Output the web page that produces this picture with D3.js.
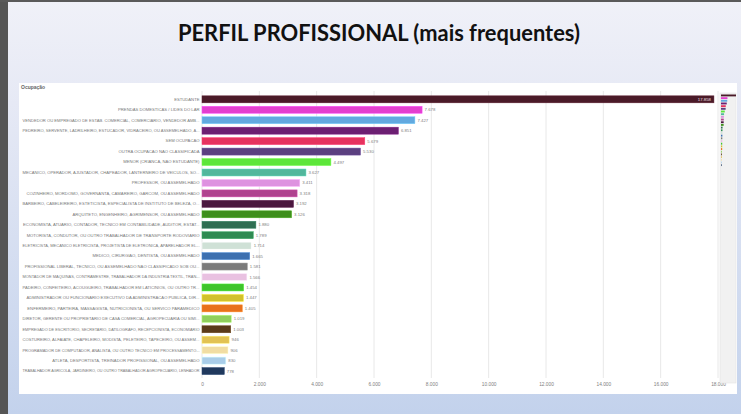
<!DOCTYPE html>
<html>
<head>
<meta charset="utf-8">
<script src="https://cdn.jsdelivr.net/npm/d3@7"></script>
<style>
  html, body { margin: 0; padding: 0; background: #ffffff; }
  svg { display: block; }
</style>
</head>
<body>
<svg id="chart" width="741" height="414"></svg>
<script>
// ---- Data ----
const categories = [
  "ESTUDANTE",
  "PRENDAS DOMESTICAS / LIDES DO LAR",
  "VENDEDOR OU EMPREGADO DE ESTAB. COMERCIAL, COMERCIARIO, VENDEDOR AMB...",
  "PEDREIRO, SERVENTE, LADRILHEIRO, ESTUCADOR, VIDRACEIRO, OU ASSEMELHADO, A...",
  "SEM OCUPACAO",
  "OUTRA OCUPACAO NAO CLASSIFICADA",
  "MENOR (CRIANCA, NAO ESTUDANTE)",
  "MECANICO, OPERADOR, AJUSTADOR, CHAPEADOR, LANTERNEIRO DE VEICULOS, SO...",
  "PROFESSOR, OU ASSEMELHADO",
  "COZINHEIRO, MORDOMO, GOVERNANTA, CAMAREIRO, GARCOM, OU ASSEMELHADO",
  "BARBEIRO, CABELEIREIRO, ESTETICISTA, ESPECIALISTA DE INSTITUTO DE BELEZA, O...",
  "ARQUITETO, ENGENHEIRO, AGRIMENSOR, OU ASSEMELHADO",
  "ECONOMISTA, ATUARIO, CONTADOR, TECNICO EM CONTABILIDADE, AUDITOR, ESTAT...",
  "MOTORISTA, CONDUTOR, OU OUTRO TRABALHADOR DE TRANSPORTE RODOVIARIO",
  "ELETRICISTA, MECANICO ELETRICISTA, PROJETISTA DE ELETRONICA, APARELHADOR EL...",
  "MEDICO, CIRURGIAO, DENTISTA, OU ASSEMELHADO",
  "PROFISSIONAL LIBERAL, TECNICO, OU ASSEMELHADO NAO CLASSIFICADO SOB OU...",
  "MONTADOR DE MAQUINAS, CONTRAMESTRE, TRABALHADOR DA INDUSTRIA TEXTIL, TRAN...",
  "PADEIRO, CONFEITEIRO, ACOUGUEIRO, TRABALHADOR EM LATICINIOS, OU OUTRO TR...",
  "ADMINISTRADOR OU FUNCIONARIO EXECUTIVO DA ADMINISTRACAO PUBLICA, DIR...",
  "ENFERMEIRO, PARTEIRA, MASSAGISTA, NUTRICIONISTA, OU SERVICO PARAMEDICO",
  "DIRETOR, GERENTE OU PROPRIETARIO DE CASA COMERCIAL, AGROPECUARIA OU SIMI...",
  "EMPREGADO DE ESCRITORIO, SECRETARIO, DATILOGRAFO, RECEPCIONISTA, ECONOMIARIO",
  "COSTUREIRO, ALFAIATE, CHAPELEIRO, MODISTA, PELETEIRO, TAPECEIRO, OU ASSEM...",
  "PROGRAMADOR DE COMPUTADOR, ANALISTA, OU OUTRO TECNICO EM PROCESSAMENTO...",
  "ATLETA, DESPORTISTA, TREINADOR PROFISSIONAL, OU ASSEMELHADO",
  "TRABALHADOR AGRICOLA, JARDINEIRO, OU OUTRO TRABALHADOR AGROPECUARIO, LENHADOR"
];
const values = [17858, 7678, 7427, 6851, 5679, 5530, 4497, 3627, 3411, 3318, 3192, 3126,
  1880, 1789, 1714, 1665, 1581, 1566, 1454, 1447, 1405, 1019, 1003, 946, 906, 830, 778];
const colors = ["#4a1a28", "#e33fcf", "#62a9df", "#6c1f72", "#e6335f", "#5b4080", "#5de63a",
  "#52b79c", "#de92e0", "#b0438f", "#4b173f", "#3e8f1c", "#2f6e52", "#2f8b52", "#cfe1d6",
  "#3d70b0", "#7b7b7b", "#e9c1e1", "#3fc42c", "#d1c12c", "#e8711c", "#90cf5c", "#5b3b1a",
  "#e2c253", "#f1dda3", "#a9cde9", "#20395d"];
const tickValues = [0, 2000, 4000, 6000, 8000, 10000, 12000, 14000, 16000, 18000];
const title = "PERFIL PROFISSIONAL (mais frequentes)";
const fieldName = "Ocupação";

const fmt = v => d3.format(",")(v).replace(/,/g, ".");

const svg = d3.select("#chart");
const W = 741, H = 414;

// ---- Slide background ----
const defs = svg.append("defs");
const g1 = defs.append("linearGradient").attr("id", "bg").attr("x1", 0).attr("y1", 0).attr("x2", 0).attr("y2", 1);
g1.append("stop").attr("offset", "0%").attr("stop-color", "#f0f1f8");
g1.append("stop").attr("offset", "25%").attr("stop-color", "#e6e9f5");
g1.append("stop").attr("offset", "100%").attr("stop-color", "#c3d2ec");
svg.append("rect").attr("width", W).attr("height", H).attr("fill", "url(#bg)");
// dark frame (top-left)
svg.append("rect").attr("x", 0).attr("y", 0).attr("width", 8).attr("height", H).attr("fill", "#555555");
svg.append("rect").attr("x", 0).attr("y", 0).attr("width", W).attr("height", 2).attr("fill", "#5a5a5a");

// title
svg.append("text")
  .attr("x", 379).attr("y", 41)
  .attr("text-anchor", "middle")
  .attr("font-family", "Lato, 'Open Sans', sans-serif")
  .attr("font-weight", 700)
  .attr("font-size", 22)
  .attr("textLength", 402)
  .attr("lengthAdjust", "spacingAndGlyphs")
  .attr("fill", "#111111")
  .text(title);

// white panel
svg.append("rect").attr("x", 19).attr("y", 83).attr("width", 718).attr("height", 311).attr("fill", "#ffffff");

svg.append("text")
  .attr("x", 21).attr("y", 89)
  .attr("font-family", "'Liberation Sans', Arial, sans-serif")
  .attr("font-weight", 700)
  .attr("font-size", 5)
  .attr("fill", "#666")
  .text(fieldName);

// ---- Scales ----
const x = d3.scaleLinear().domain([0, 18000]).range([202, 718]);
const y = d3.scaleBand().domain(categories).range([94.1, 376.3]).paddingInner(0.33).paddingOuter(0.165);

// gridlines
svg.append("g").selectAll("line").data(tickValues).join("line")
  .attr("x1", d => x(d)).attr("x2", d => x(d))
  .attr("y1", 91).attr("y2", 378)
  .attr("stroke", "#e8e8e8").attr("stroke-width", 1);

// x axis labels
const xAxis = d3.axisBottom(x).tickValues(tickValues).tickSize(0).tickPadding(0).tickFormat(fmt);
const ax = svg.append("g").attr("transform", "translate(0,383)").call(xAxis);
ax.select(".domain").remove();
ax.selectAll("text")
  .attr("font-family", "'Liberation Sans', Arial, sans-serif")
  .attr("font-size", 4.8)
  .attr("fill", "#808080");

// bars
const data = categories.map((c, i) => ({ c, v: values[i], col: colors[i], i }));
svg.append("g").selectAll("rect").data(data).join("rect")
  .attr("x", x(0))
  .attr("y", d => y(d.c))
  .attr("width", d => x(d.v) - x(0))
  .attr("height", y.bandwidth())
  .attr("fill", d => d.col)
  .attr("stroke", d => d3.color(d.col).brighter(0.6))
  .attr("stroke-width", 0.5);

// category labels
const yAxis = d3.axisLeft(y).tickSize(0).tickPadding(0);
const ay = svg.append("g").attr("transform", "translate(199.5,0)").call(yAxis);
ay.select(".domain").remove();
ay.selectAll("text")
  .attr("font-family", "'Liberation Sans', Arial, sans-serif")
  .attr("font-size", 4.2)
  .attr("fill", "#777777")
  .each(function () {
    const len = this.getComputedTextLength();
    if (len > 177) {
      d3.select(this).attr("textLength", 177).attr("lengthAdjust", "spacingAndGlyphs");
    }
  });

// value labels
svg.append("g").selectAll("text").data(data).join("text")
  .attr("x", d => d.i === 0 ? x(d.v) - 3 : x(d.v) + 2.5)
  .attr("y", d => y(d.c) + y.bandwidth() / 2)
  .attr("dy", "0.35em")
  .attr("text-anchor", d => d.i === 0 ? "end" : "start")
  .attr("font-family", "'Liberation Sans', Arial, sans-serif")
  .attr("font-size", 4.3)
  .attr("fill", d => d.i === 0 ? "#f0e0e4" : "#808080")
  .text(d => fmt(d.v));

// ---- Mini overview (right side) ----
svg.append("rect").attr("x", 720).attr("y", 93).attr("width", 16).attr("height", 290)
  .attr("fill", "#f1f1f1").attr("stroke", "#e0e0e0").attr("stroke-width", 0.5);
const xm = d3.scaleLinear().domain([0, d3.max(values)]).range([721, 736]);
const ym = d3.scaleBand().domain(categories).range([94.5, 94.5 + 27 * 2.65]).paddingInner(0.3);
svg.append("g").selectAll("rect").data(data).join("rect")
  .attr("x", xm(0))
  .attr("y", d => ym(d.c))
  .attr("width", d => xm(d.v) - xm(0))
  .attr("height", ym.bandwidth())
  .attr("fill", d => d.col);
</script>
</body>
</html>
